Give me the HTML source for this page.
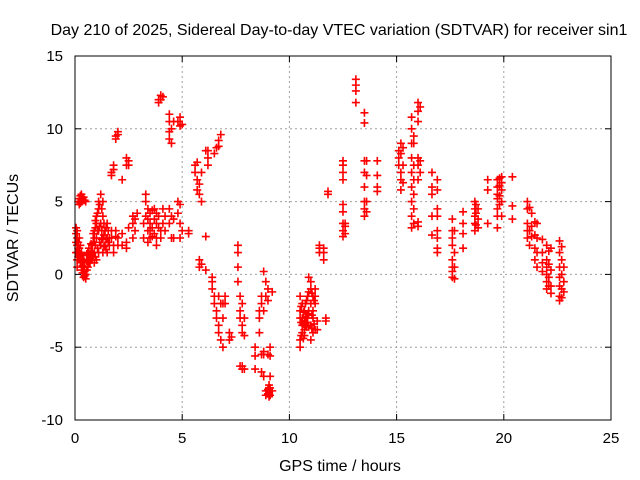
<!DOCTYPE html>
<html><head><meta charset="utf-8"><style>
body{margin:0;background:#fff}
svg{display:block;font-family:"Liberation Sans",sans-serif}
</style></head><body>
<svg id="chart" width="640" height="480">
<rect width="640" height="480" fill="#fff"/>
<text x="339" y="35" text-anchor="middle" font-size="16">Day 210 of 2025, Sidereal Day-to-day VTEC variation (SDTVAR) for receiver sin1</text>
<g id="grid"></g>
<g id="ticks"></g>
<g id="marks"></g>
<rect x="75" y="56" width="536" height="364" fill="none" stroke="#000" stroke-width="1"/>
<text x="340" y="471" text-anchor="middle" font-size="16">GPS time / hours</text>
<text transform="translate(18,238) rotate(-90)" text-anchor="middle" font-size="16">SDTVAR / TECUs</text>
</svg>
<script>
const xTicks=[0,5,10,15,20,25];
const yTicks=[-10,-5,0,5,10,15];
const times=[0.05,0.1,0.15,0.2,0.25,0.3,0.35,0.4,0.45,0.5,0.55,0.6,0.65,0.7,0.75,0.8,0.85,0.9,0.95,1.0,1.05,1.1,1.15,1.2,1.25,1.3,1.35,1.4,1.45,1.5,1.55,1.6,1.7,1.8,1.9,2.0,2.2,2.4,2.5,2.7,2.8,2.9,3.2,3.3,3.4,3.5,3.6,3.7,3.8,3.9,4.0,4.1,4.2,4.4,4.5,4.6,4.8,4.9,5.0,5.3,5.6,5.7,5.8,5.9,6.1,6.2,6.4,6.5,6.6,6.7,6.8,6.9,7.0,7.2,7.3,7.6,7.7,7.8,7.9,8.4,8.6,8.7,8.8,8.9,9.0,9.05,9.1,9.2,
10.5,10.55,10.6,10.65,10.7,10.75,10.8,10.85,10.9,11.0,11.05,11.1,11.15,11.2,11.3,11.4,11.6,11.7,11.8,12.5,12.6,13.1,13.5,13.6,14.1,15.1,15.2,15.3,15.7,15.8,16.0,16.1,16.65,16.9,17.6,17.7,18.1,18.65,18.7,18.8,19.25,19.7,19.8,19.9,20.4,21.1,21.2,21.3,21.45,21.55,21.8,22.0,22.1,22.2,22.6,22.7,22.8];
const values=[[2.8,2.2,1.5,3.2],[3.0,2.0,1.5,1.0,0.5,2.5],[2.2,1.8,1.2,5.0],[5.2,5.0,4.8,2.5,1.8,1.2],[5.4,4.9,2.0,1.4,0.9],[5.5,5.0,1.5,0.8,0.3,1.1],[5.3,0.6,0.1,1.3],[5.3,0.5,-0.2,1.0],[5.1,0.2,-0.1,0.8],[5.0,0,-0.3],[0.3,0.9,1.4],[0.5,1.0,1.5],[0.8,1.3,1.8],[1.2,0.8],[1.0,1.6,2.1],[1.5,2.0,1.0],[2.2,1.2,2.8],[2.5,3.0,1.5,0.8],[3.2,2.0,1.2,3.7],[3.5,4.0,2.5,1.0],[4.2,3.0,1.8],[4.5,5.0,3.0,1.5],[4.8,3.3,2.2],[5.5,3.5,2.0],[4.5,3.0,2.4],[5.0,4.0,2.5,1.5],[3.5,2.7,1.9],[3.0,2.0],[3.2,2.4,1.7],[3.5,2.5,1.5],[3.0,2.2],[2.5,2.0],[7.0,6.8,3.0,2.5],[7.5,7.2,2.0,1.5],[9.5,9.3,3.0,2.6],[9.8,9.6,2.5,2.0],[2.8,2.0,6.5],[8.0,7.5,2.2,1.8],[7.5,7.8,3.2],[4.0,3.5,2.5],[3.8,3.0],[4.2],[3.5,2.5],[5.5,5.0,4.0],[4.5,3.8,3.0,2.2],[4.2,3.5,3.0,2.5],[4.4,3.2,2.6],[4.5,3.8,2.8],[3.5,2.5,2.0,4.2],[4.0,12.0,11.8,3.2],[12.3,12.0,3.0,2.5],[12.2,4.5,3.5],[4.0,3.0],[11.0,10.5,9.8,9.3,4.5,3.5],[10.0,9.0,4.0,2.5],[10.5,3.8,2.5],[10.5,4.2,5.0],[10.8,10.2,4.8,3.5,2.5],[10.3,3.0],[2.8,3.0],[7.5,7.0],[7.7,6.5,5.8],[6.2,5.5,0.5,1.0],[7.0,5.0,0.7],[8.5,2.6,0.3],[8.0,7.5,8.5],[-0.2,-0.5,-1.0],[8.3,-1.5,-2.0],[8.7,-2.5,-3.0],[9.2,8.8,-3.5,-4.0,-1.5],[9.6,-4.5,-2.0],[-5.0,-3.0,-2.0],[-1.5,-2.0],[-4.5,-4.0],[-4.3],[2.0,1.5,0.5,-0.5],[-1.5,-2.5,-3.0,-6.3],[-2.0,-3.5,-4.0,-6.3,-6.5],[-3.0,-4.2,-6.5],[-6.5,-5.6,-5.0],[-4.0,-3.0,-2.5],[-2.0,-1.5,-5.5,-6.7],[0.2,-2.5,-5.3,-5.5,-7.0],[-0.5,-1.5,-8.0,-8.3],[-1.0,-1.8,-5.5,-8.2,-7.9],[-8.1,-8.4,-7.6],[-5.6,-8.3,-7.8,-7.0,-5.0],[-8.0,-1.2],
[-1.5,-2.5,-3.0,-4.5,-5.0],[-2.2,-3.3,-4.2],[-2.0,-3.0,-3.5,-4.0],[-2.6,-3.4,-4.4],[-2.5,-3.2,-3.8,-4.2],[-2.0,-2.9,-3.5],[-1.8,-3.0,-3.6],[-1.5,-2.7,-3.3],[-1.2,-0.2,-2.5,-3.6],[-0.5,-1.0,-2.0,-3.5,-4.5],[-1.3,-2.8,-3.7],[-1.5,-2.5,-3.0,-4.0],[-1.8,-3.4],[-1.0,-1.5,-2.0,-3.8],[-3.2,-3.8],[2.0,1.8,1.5],[1.8,1.0,1.5],[-3.0,-3.2],[5.7,5.5],[7.8,7.5,7.0,6.5,4.8,4.3,3.5,3.0,2.6],[3.5,3.3,2.8],[13.4,13.0,12.6,11.8],[11.1,10.4,7.8,7.0,6.0,5.0,4.5,4.0],[7.8,6.8,5.0,4.3],[7.8,6.8,6.0,5.7],[8.5,8.0,7.5],[9.0,8.3,7.0,6.5,5.8],[8.7,7.5,6.3],[10.8,10.0,9.0,8.0,7.0,6.0,5.0,4.0,3.2],[9.5,9.0,7.5,6.5,5.5,4.5,3.5],[11.8,11.2,10.5,8.0,7.5,6.5,3.6,3.3],[11.5,7.8,7.0],[7.0,6.0,5.5,4.0,2.7],[6.5,5.8,4.5,4.0,3.0,2.5,1.8,1.5],[3.8,3.0,2.5,2.0,1.0,0.5,0.2,-0.2],[3.0,1.5,0.5,-0.3],[4.3,3.5,2.8,1.8],[5.0,4.5,4.0,3.5,3.0],[4.8,4.2,3.4],[4.5,3.8,3.2],[6.5,5.8,3.5],[6.5,6.0,5.5,5.2,4.5,4.0,3.2],[6.6,6.1,5.4,4.8],[6.7,6.3,5.8,5.0,4.0],[6.7,4.7,3.8],[5.0,4.5,3.5,3.0,2.5],[4.6,3.0,2.0],[4.2,3.3,2.6],[3.6,2.7,1.8,1.0],[3.5,2.5,1.5,0.5],[2.4,1.5,0.8,0.2],[2.0,1.0,0.5,0,-0.5,-1.0],[1.6,0.7,-0.2,-0.8],[1.8,0.3,-0.8,-1.3],[2.3,1.5,0.5,-0.2,-0.8,-1.5,-1.8],[1.9,1.0,0.0,-1.0,-1.6],[0.5,-0.5,-1.2]];
const X0=75,X1=611,Y0=420,Y1=56;
const xs=t=>X0+(t-0)/(25-0)*(X1-X0);
const ys=v=>Y0-(v+10)/(15+10)*(Y0-Y1);
const NS='http://www.w3.org/2000/svg';
const grid=document.getElementById('grid'),ticks=document.getElementById('ticks'),marks=document.getElementById('marks');
function mk(tag,attrs,parent){const e=document.createElementNS(NS,tag);for(const k in attrs)e.setAttribute(k,attrs[k]);parent.appendChild(e);return e;}
xTicks.forEach(t=>{const x=xs(t);
 if(t>0&&t<25){const g=mk('line',{x1:x,x2:x,y1:Y1,y2:Y0,stroke:'#a0a0a0','stroke-dasharray':'2,3'},grid);
 
 }
 mk('line',{x1:x,x2:x,y1:Y0,y2:Y0-6,stroke:'#000'},ticks);
 mk('line',{x1:x,x2:x,y1:Y1,y2:Y1+6,stroke:'#000'},ticks);
 const l=mk('text',{x:x,y:Y0+23,'text-anchor':'middle','font-size':'15'},ticks);l.textContent=t;
 
 });
yTicks.forEach(v=>{const y=ys(v);
 if(v>-10&&v<15){const g=mk('line',{x1:X0,x2:X1,y1:y,y2:y,stroke:'#a0a0a0','stroke-dasharray':'2,3'},grid);
 
 }
 mk('line',{x1:X0,x2:X0+6,y1:y,y2:y,stroke:'#000'},ticks);
 mk('line',{x1:X1,x2:X1-6,y1:y,y2:y,stroke:'#000'},ticks);
 const l=mk('text',{x:X0-12,y:y+5,'text-anchor':'end','font-size':'15'},ticks);l.textContent=v;
 
 });
times.forEach((t,i)=>{values[i].forEach(v=>{const x=xs(t),y=ys(v);
 const p=mk('path',{d:`M${x-4} ${y}H${x+4}M${x} ${y-4}V${y+4}`,stroke:'#f00','stroke-width':'1.6'},marks);
 
 });});
</script>
</body></html>
